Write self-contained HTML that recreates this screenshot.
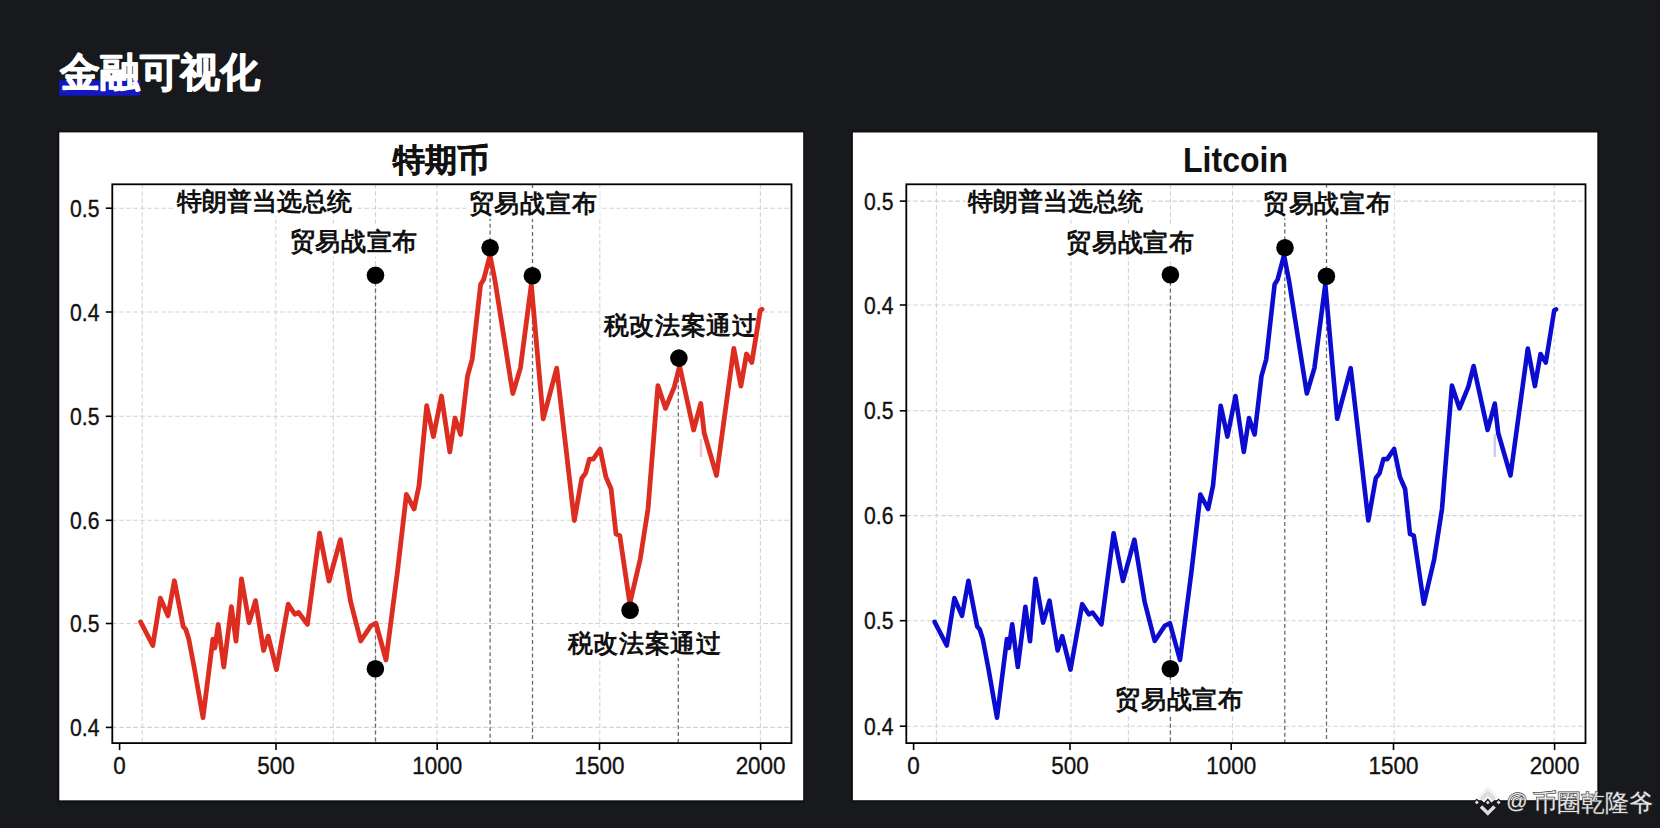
<!DOCTYPE html>
<html><head><meta charset="utf-8"><style>
html,body{margin:0;padding:0;background:#17191c;width:1660px;height:828px;overflow:hidden}
svg{display:block}
text{font-family:"Liberation Sans",sans-serif}
.g{stroke:#d0d3d6;stroke-width:1.1;stroke-dasharray:4.5 2.5}
.ev{stroke:#686c72;stroke-width:1.3;stroke-dasharray:4 2.8}
.lab{font-weight:bold;fill:#111}
.yl{font-size:23.5px;fill:#111;text-anchor:end;stroke:#111;stroke-width:0.35}
.xl{font-size:23.5px;fill:#111;text-anchor:middle;stroke:#111;stroke-width:0.35}
.tt{font-weight:bold;fill:#111;stroke:#111;stroke-width:0.5}
</style></head><body>
<svg width="1660" height="828" viewBox="0 0 1660 828">
<rect x="0" y="0" width="1660" height="828" fill="#17191c"/>
<rect x="59.3" y="80.4" width="80.8" height="15.3" fill="#1418c2"/>
<text x="59.9" y="85.6" class="tt" style="font-size:39.5px;fill:#fff;stroke:#fff;stroke-width:1.1;stroke-linejoin:round">金融可视化</text>
<rect x="57.5" y="130.5" width="747.5" height="671.8" fill="#0e1012"/>
<rect x="851" y="130.5" width="748.3" height="671.8" fill="#0e1012"/>
<rect x="59.3" y="132.4" width="743.9" height="667.9" fill="#fff"/>
<rect x="852.9" y="132.5" width="744.4" height="667.7" fill="#fff"/>
<text x="393.4" y="170.7" class="tt" style="font-size:31.5px;">特期币</text>
<text x="1183" y="172.4" class="tt" textLength="105" lengthAdjust="spacingAndGlyphs" style="font-size:35px;stroke-width:0">Litcoin</text>
<line x1="701" y1="439" x2="701" y2="457" stroke="#f0cccc" stroke-width="2.6"/>
<line x1="1494.8" y1="434" x2="1494.8" y2="457" stroke="#cccceb" stroke-width="2.6"/>
<line x1="112.3" y1="208.2" x2="791.5" y2="208.2" class="g"/>
<line x1="112.3" y1="312" x2="791.5" y2="312" class="g"/>
<line x1="112.3" y1="416.3" x2="791.5" y2="416.3" class="g"/>
<line x1="112.3" y1="520.3" x2="791.5" y2="520.3" class="g"/>
<line x1="112.3" y1="623.5" x2="791.5" y2="623.5" class="g"/>
<line x1="112.3" y1="727.4" x2="791.5" y2="727.4" class="g"/>
<line x1="142.2" y1="184.3" x2="142.2" y2="743.1" class="g"/>
<line x1="275.8" y1="184.3" x2="275.8" y2="743.1" class="g"/>
<line x1="333.3" y1="184.3" x2="333.3" y2="743.1" class="g"/>
<line x1="375.5" y1="184.3" x2="375.5" y2="743.1" class="g"/>
<line x1="437" y1="184.3" x2="437" y2="743.1" class="g"/>
<line x1="599.8" y1="184.3" x2="599.8" y2="743.1" class="g"/>
<line x1="760.4" y1="184.3" x2="760.4" y2="743.1" class="g"/>
<line x1="375.5" y1="275" x2="375.5" y2="743.1" class="ev"/>
<line x1="490.1" y1="217" x2="490.1" y2="743.1" class="ev"/>
<line x1="532.5" y1="184.3" x2="532.5" y2="743.1" class="ev"/>
<line x1="678.3" y1="358" x2="678.3" y2="743.1" class="ev"/>
<rect x="174.1" y="185.5" width="181.6" height="30.3" fill="#fff"/><text x="176.6" y="209.8" class="lab" style="font-size:25.3px;letter-spacing:0.0px">特朗普当选总统</text>
<rect x="288.9" y="225.8" width="131.5" height="30.8" fill="#fff"/><text x="289.6" y="249.8" class="lab" style="font-size:25.3px;letter-spacing:0.7px">贸易战宣布</text>
<rect x="468.1" y="188.0" width="131.5" height="30.8" fill="#fff"/><text x="468.8" y="212.0" class="lab" style="font-size:25.3px;letter-spacing:0.7px">贸易战宣布</text>
<rect x="601.1" y="309.8" width="159.3" height="30.6" fill="#fff"/><text x="603.6" y="334.1" class="lab" style="font-size:25.3px;letter-spacing:0.7px">税改法案通过</text>
<rect x="565.2" y="627.3" width="159.3" height="30.6" fill="#fff"/><text x="567.7" y="651.6" class="lab" style="font-size:25.3px;letter-spacing:0.7px">税改法案通过</text>
<path d="M140.6,621.9 L152.8,645.5 L160.4,598.1 L168.0,615.8 L174.4,580.8 L183.2,626.5 L185.8,629.5 L188.8,639.1 L194.6,669.6 L203.0,717.7 L212.9,639.1 L214.9,648.0 L218.2,624.4 L223.8,667.0 L231.4,606.7 L236.0,641.2 L241.5,578.8 L249.1,622.7 L255.5,600.6 L263.6,650.5 L268.2,636.1 L276.5,669.6 L288.2,604.2 L294.8,614.3 L298.6,612.5 L307.4,624.4 L319.6,533.2 L329.0,581.0 L340.4,539.6 L350.6,601.7 L360.7,641.0 L370.8,625.8 L375.9,623.2 L386.0,660.0 L397.5,571.3 L406.4,494.5 L414.1,509.0 L419.0,485.8 L426.7,405.7 L433.4,436.6 L441.5,396.0 L449.8,452.0 L455.0,418.0 L460.6,434.5 L467.5,376.0 L472.2,359.3 L480.6,284.5 L483.7,279.4 L490.0,255.3 L495.0,280.7 L512.8,393.5 L520.4,368.1 L531.3,284.5 L543.2,418.8 L556.7,368.1 L574.3,520.5 L581.8,478.2 L585.6,473.1 L589.4,459.1 L593.2,459.1 L600.1,449.0 L605.9,476.9 L611.1,489.0 L616.0,534.0 L619.8,535.6 L629.8,603.7 L640.2,559.2 L648.0,509.0 L657.9,385.6 L665.5,408.4 L674.3,386.9 L679.6,366.0 L693.6,430.0 L700.8,403.5 L704.2,433.0 L716.5,475.5 L733.8,348.5 L740.9,386.1 L746.5,354.0 L751.8,362.5 L760.2,310.5 L762.0,309.3" fill="none" stroke="#dd2c20" stroke-width="4.8" stroke-linejoin="round" stroke-linecap="round"/>
<circle cx="375.5" cy="275.3" r="8.8" fill="#000"/>
<circle cx="490.1" cy="247.8" r="8.8" fill="#000"/>
<circle cx="532.4" cy="275.8" r="8.8" fill="#000"/>
<circle cx="630.1" cy="610.2" r="8.8" fill="#000"/>
<circle cx="375.4" cy="668.8" r="8.8" fill="#000"/>
<circle cx="678.9" cy="358.1" r="8.8" fill="#000"/>
<rect x="112.3" y="184.3" width="679.2" height="558.8" fill="none" stroke="#000" stroke-width="1.8"/>
<line x1="105.8" y1="208.2" x2="112.3" y2="208.2" stroke="#000" stroke-width="1.6"/>
<text transform="translate(99.5,216.7) scale(0.9,1)" class="yl">0.5</text>
<line x1="105.8" y1="312" x2="112.3" y2="312" stroke="#000" stroke-width="1.6"/>
<text transform="translate(99.5,320.5) scale(0.9,1)" class="yl">0.4</text>
<line x1="105.8" y1="416.3" x2="112.3" y2="416.3" stroke="#000" stroke-width="1.6"/>
<text transform="translate(99.5,424.8) scale(0.9,1)" class="yl">0.5</text>
<line x1="105.8" y1="520.3" x2="112.3" y2="520.3" stroke="#000" stroke-width="1.6"/>
<text transform="translate(99.5,528.8) scale(0.9,1)" class="yl">0.6</text>
<line x1="105.8" y1="623.5" x2="112.3" y2="623.5" stroke="#000" stroke-width="1.6"/>
<text transform="translate(99.5,632.0) scale(0.9,1)" class="yl">0.5</text>
<line x1="105.8" y1="727.4" x2="112.3" y2="727.4" stroke="#000" stroke-width="1.6"/>
<text transform="translate(99.5,735.9) scale(0.9,1)" class="yl">0.4</text>
<line x1="119.6" y1="743.1" x2="119.6" y2="750.1" stroke="#000" stroke-width="1.6"/>
<text transform="translate(119.6,774) scale(0.955,1)" class="xl">0</text>
<line x1="276.0" y1="743.1" x2="276.0" y2="750.1" stroke="#000" stroke-width="1.6"/>
<text transform="translate(276.0,774) scale(0.955,1)" class="xl">500</text>
<line x1="437.2" y1="743.1" x2="437.2" y2="750.1" stroke="#000" stroke-width="1.6"/>
<text transform="translate(437.2,774) scale(0.955,1)" class="xl">1000</text>
<line x1="599.5" y1="743.1" x2="599.5" y2="750.1" stroke="#000" stroke-width="1.6"/>
<text transform="translate(599.5,774) scale(0.955,1)" class="xl">1500</text>
<line x1="760.6" y1="743.1" x2="760.6" y2="750.1" stroke="#000" stroke-width="1.6"/>
<text transform="translate(760.6,774) scale(0.955,1)" class="xl">2000</text>
<line x1="906.3" y1="201.1" x2="1585.5" y2="201.1" class="g"/>
<line x1="906.3" y1="305" x2="1585.5" y2="305" class="g"/>
<line x1="906.3" y1="410.8" x2="1585.5" y2="410.8" class="g"/>
<line x1="906.3" y1="515.6" x2="1585.5" y2="515.6" class="g"/>
<line x1="906.3" y1="620.7" x2="1585.5" y2="620.7" class="g"/>
<line x1="906.3" y1="726.2" x2="1585.5" y2="726.2" class="g"/>
<line x1="936.4" y1="184.3" x2="936.4" y2="743.1" class="g"/>
<line x1="1071" y1="184.3" x2="1071" y2="743.1" class="g"/>
<line x1="1128.4" y1="184.3" x2="1128.4" y2="743.1" class="g"/>
<line x1="1170.4" y1="184.3" x2="1170.4" y2="743.1" class="g"/>
<line x1="1232.5" y1="184.3" x2="1232.5" y2="743.1" class="g"/>
<line x1="1394.2" y1="184.3" x2="1394.2" y2="743.1" class="g"/>
<line x1="1554.2" y1="184.3" x2="1554.2" y2="743.1" class="g"/>
<line x1="1170.4" y1="275" x2="1170.4" y2="743.1" class="ev"/>
<line x1="1284.8" y1="216" x2="1284.8" y2="743.1" class="ev"/>
<line x1="1326.5" y1="184.3" x2="1326.5" y2="743.1" class="ev"/>
<rect x="965.6" y="186.0" width="181.6" height="30.3" fill="#fff"/><text x="968.1" y="210.3" class="lab" style="font-size:25.3px;letter-spacing:0.0px">特朗普当选总统</text>
<rect x="1065.5" y="226.5" width="131.5" height="30.8" fill="#fff"/><text x="1066.2" y="250.5" class="lab" style="font-size:25.3px;letter-spacing:0.7px">贸易战宣布</text>
<rect x="1262.2" y="187.6" width="131.5" height="30.8" fill="#fff"/><text x="1262.9" y="211.6" class="lab" style="font-size:25.3px;letter-spacing:0.7px">贸易战宣布</text>
<rect x="1114.7" y="683.6" width="131.5" height="30.8" fill="#fff"/><text x="1115.4" y="707.6" class="lab" style="font-size:25.3px;letter-spacing:0.7px">贸易战宣布</text>
<path d="M934.6,621.9 L946.8,645.5 L954.4,598.1 L962.0,615.8 L968.4,580.8 L977.2,626.5 L979.8,629.5 L982.8,639.1 L988.6,669.6 L997.0,717.7 L1006.9,639.1 L1008.9,648.0 L1012.2,624.4 L1017.8,667.0 L1025.4,606.7 L1030.0,641.2 L1035.5,578.8 L1043.1,622.7 L1049.5,600.6 L1057.6,650.5 L1062.2,636.1 L1070.5,669.6 L1082.2,604.2 L1088.8,614.3 L1092.6,612.5 L1101.4,624.4 L1113.6,533.2 L1123.0,581.0 L1134.4,539.6 L1144.6,601.7 L1154.7,641.0 L1164.8,625.8 L1169.9,623.2 L1180.0,660.0 L1191.5,571.3 L1200.4,494.5 L1208.1,509.0 L1213.0,485.8 L1220.7,405.7 L1227.4,436.6 L1235.5,396.0 L1243.8,452.0 L1249.0,418.0 L1254.6,434.5 L1261.5,376.0 L1266.2,359.3 L1274.6,284.5 L1277.7,279.4 L1284.0,255.3 L1289.0,280.7 L1306.8,393.5 L1314.4,368.1 L1325.3,284.5 L1337.2,418.8 L1350.7,368.1 L1368.3,520.5 L1375.8,478.2 L1379.6,473.1 L1383.4,459.1 L1387.2,459.1 L1394.1,449.0 L1399.9,476.9 L1405.1,489.0 L1410.0,534.0 L1413.8,535.6 L1423.8,603.7 L1434.2,559.2 L1442.0,509.0 L1451.9,385.6 L1459.5,408.4 L1468.3,386.9 L1473.6,366.0 L1487.6,430.0 L1494.8,403.5 L1498.2,433.0 L1510.5,475.5 L1527.8,348.5 L1534.9,386.1 L1540.5,354.0 L1545.8,362.5 L1554.2,310.5 L1556.0,309.3" fill="none" stroke="#0c0cd0" stroke-width="4.6" stroke-linejoin="round" stroke-linecap="round"/>
<circle cx="1170.4" cy="274.8" r="8.8" fill="#000"/>
<circle cx="1285" cy="247.7" r="8.8" fill="#000"/>
<circle cx="1326.4" cy="276.2" r="8.8" fill="#000"/>
<circle cx="1170.3" cy="668.8" r="8.8" fill="#000"/>
<rect x="906.3" y="184.3" width="679.2" height="558.8" fill="none" stroke="#000" stroke-width="1.8"/>
<line x1="899.8" y1="201.1" x2="906.3" y2="201.1" stroke="#000" stroke-width="1.6"/>
<text transform="translate(893.5,209.6) scale(0.9,1)" class="yl">0.5</text>
<line x1="899.8" y1="305" x2="906.3" y2="305" stroke="#000" stroke-width="1.6"/>
<text transform="translate(893.5,313.5) scale(0.9,1)" class="yl">0.4</text>
<line x1="899.8" y1="410.8" x2="906.3" y2="410.8" stroke="#000" stroke-width="1.6"/>
<text transform="translate(893.5,419.3) scale(0.9,1)" class="yl">0.5</text>
<line x1="899.8" y1="515.6" x2="906.3" y2="515.6" stroke="#000" stroke-width="1.6"/>
<text transform="translate(893.5,524.1) scale(0.9,1)" class="yl">0.6</text>
<line x1="899.8" y1="620.7" x2="906.3" y2="620.7" stroke="#000" stroke-width="1.6"/>
<text transform="translate(893.5,629.2) scale(0.9,1)" class="yl">0.5</text>
<line x1="899.8" y1="726.2" x2="906.3" y2="726.2" stroke="#000" stroke-width="1.6"/>
<text transform="translate(893.5,734.7) scale(0.9,1)" class="yl">0.4</text>
<line x1="913.6" y1="743.1" x2="913.6" y2="750.1" stroke="#000" stroke-width="1.6"/>
<text transform="translate(913.6,774) scale(0.955,1)" class="xl">0</text>
<line x1="1070.0" y1="743.1" x2="1070.0" y2="750.1" stroke="#000" stroke-width="1.6"/>
<text transform="translate(1070.0,774) scale(0.955,1)" class="xl">500</text>
<line x1="1231.2" y1="743.1" x2="1231.2" y2="750.1" stroke="#000" stroke-width="1.6"/>
<text transform="translate(1231.2,774) scale(0.955,1)" class="xl">1000</text>
<line x1="1393.5" y1="743.1" x2="1393.5" y2="750.1" stroke="#000" stroke-width="1.6"/>
<text transform="translate(1393.5,774) scale(0.955,1)" class="xl">1500</text>
<line x1="1554.6" y1="743.1" x2="1554.6" y2="750.1" stroke="#000" stroke-width="1.6"/>
<text transform="translate(1554.6,774) scale(0.955,1)" class="xl">2000</text>
<g fill="none" stroke-linecap="butt" stroke-linejoin="miter">
<polyline points="1481,799.5 1487.8,792.7 1494.6,799.5" stroke="#f2f2f2" stroke-width="9"/>
<polyline points="1481,806.5 1487.8,813.3 1494.6,806.5" stroke="#141414" stroke-width="6" opacity="0.85"/>
<polygon points="1476.8,799.3 1479.6,802.3 1476.8,805.3 1474,802.3" fill="#d9d9d9" stroke="#141414" stroke-width="1.2"/>
<polygon points="1498.6,799.3 1501.4,802.3 1498.6,805.3 1495.8,802.3" fill="#d9d9d9" stroke="#141414" stroke-width="1.2"/>
<polygon points="1487.8,799.5 1490.6,802.5 1487.8,805.5 1485,802.5" fill="#d9d9d9" stroke="#141414" stroke-width="1.2"/>
<g stroke="#dcdcdc" stroke-width="3.6">
<polyline points="1481,799.5 1487.8,792.7 1494.6,799.5"/>
<polyline points="1481,806.5 1487.8,813.3 1494.6,806.5"/>
</g>
</g>
<text x="1506.3" y="807.6" class="tt" style="font-size:21px;fill:#e4e4e4;font-weight:normal;stroke:#3a3a3a;stroke-width:1.3;paint-order:stroke">@</text>
<text x="1533.3" y="811.2" class="tt" style="font-size:23.5px;fill:#e4e4e4;font-weight:normal;stroke:#3a3a3a;stroke-width:1.3;paint-order:stroke">币圈乾隆爷</text>
</svg>
</body></html>
